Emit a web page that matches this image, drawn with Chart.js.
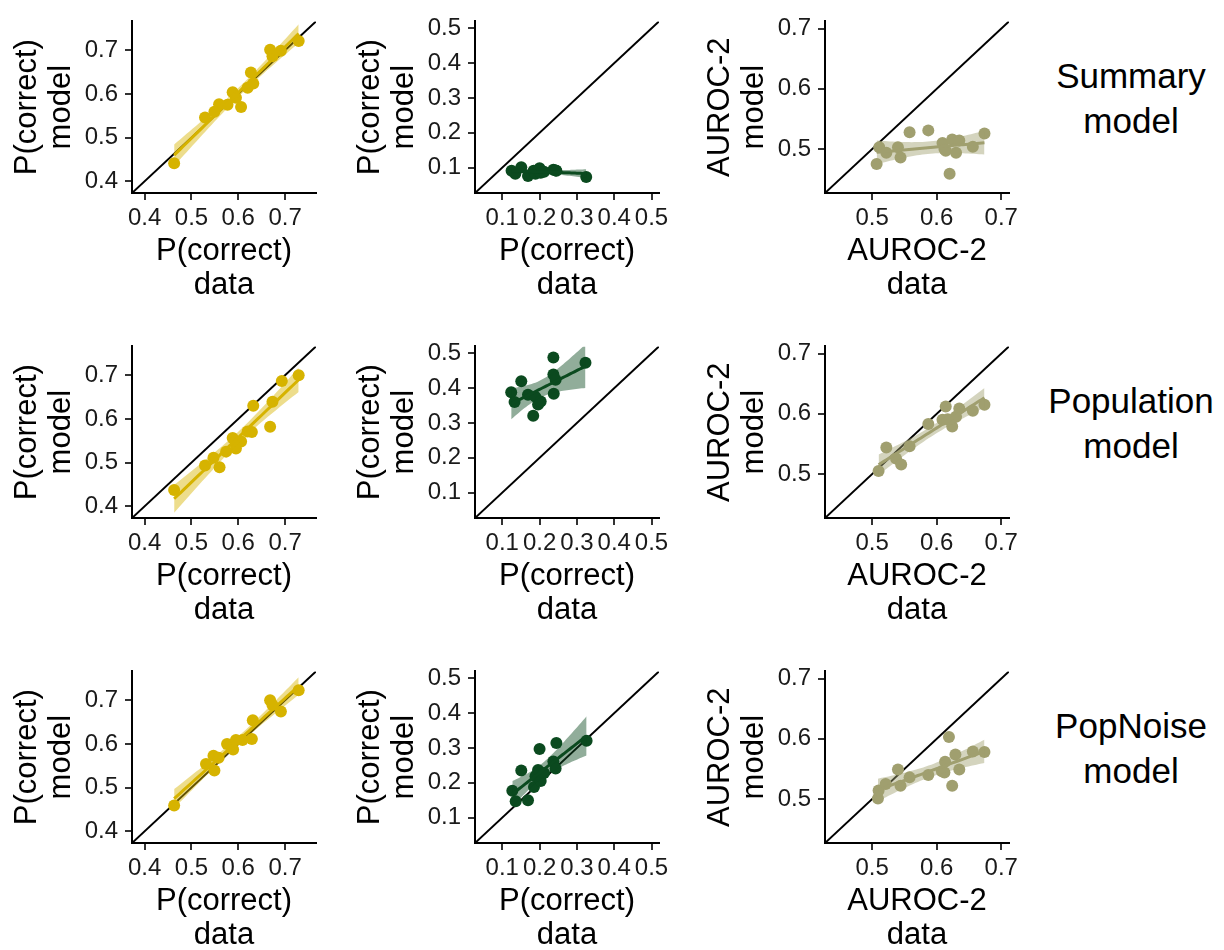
<!DOCTYPE html>
<html>
<head>
<meta charset="utf-8">
<script src="https://cdn.jsdelivr.net/npm/chart.js@4.4.1/dist/chart.umd.min.js"></script>
<style>
  body { margin: 0; background: #fff; width: 1224px; height: 950px; position: relative; overflow: hidden; }
  canvas { position: absolute; }
  .rowlab { position: absolute; left: 1031px; width: 200px; text-align: center; font-family: 'Liberation Sans', Arial, sans-serif; font-size: 35px; line-height: 45px; color: #000; }
</style>
</head>
<body>
<canvas id="c11" width="330" height="320" style="left:0px;top:0px"></canvas>
<canvas id="c12" width="330" height="320" style="left:343px;top:0px"></canvas>
<canvas id="c13" width="330" height="320" style="left:693px;top:0px"></canvas>
<canvas id="c21" width="330" height="320" style="left:0px;top:325px"></canvas>
<canvas id="c22" width="330" height="320" style="left:343px;top:325px"></canvas>
<canvas id="c23" width="330" height="320" style="left:693px;top:325px"></canvas>
<canvas id="c31" width="330" height="320" style="left:0px;top:650px"></canvas>
<canvas id="c32" width="330" height="320" style="left:343px;top:650px"></canvas>
<canvas id="c33" width="330" height="320" style="left:693px;top:650px"></canvas>
<div class="rowlab" style="top:53px">Summary<br>model</div>
<div class="rowlab" style="top:378px">Population<br>model</div>
<div class="rowlab" style="top:703px">PopNoise<br>model</div>

<script>
// axis ticks and limits per column
const accTicks = [0.4, 0.5, 0.6, 0.7];
const lowTicks = [0.1, 0.2, 0.3, 0.4, 0.5];
const aurocTicks = [0.5, 0.6, 0.7];
const accRange = [0.373, 0.766];
const lowRange = [0.027, 0.52];
const aurocRange = [0.427, 0.712];

// Summary model
const sumAccData  = [0.463, 0.529, 0.549, 0.559, 0.577, 0.588, 0.595, 0.606, 0.620, 0.632, 0.627, 0.668, 0.673, 0.691, 0.729];
const sumAccModel = [0.441, 0.546, 0.559, 0.576, 0.575, 0.604, 0.591, 0.570, 0.614, 0.624, 0.649, 0.701, 0.686, 0.699, 0.721];
const sumLowData  = [0.125, 0.135, 0.151, 0.169, 0.184, 0.189, 0.196, 0.200, 0.203, 0.212, 0.237, 0.243, 0.245, 0.325];
const sumLowModel = [0.091, 0.082, 0.101, 0.076, 0.091, 0.082, 0.090, 0.098, 0.085, 0.088, 0.094, 0.092, 0.091, 0.073];
const sumAurocData  = [0.507, 0.511, 0.522, 0.540, 0.544, 0.558, 0.587, 0.609, 0.612, 0.614, 0.620, 0.624, 0.630, 0.635, 0.656, 0.674];
const sumAurocModel = [0.475, 0.503, 0.494, 0.503, 0.486, 0.528, 0.531, 0.510, 0.500, 0.497, 0.459, 0.516, 0.494, 0.514, 0.504, 0.526];

// Population model
const popAccData  = [0.463, 0.529, 0.547, 0.560, 0.574, 0.588, 0.595, 0.606, 0.620, 0.629, 0.632, 0.668, 0.673, 0.693, 0.729];
const popAccModel = [0.437, 0.493, 0.511, 0.489, 0.525, 0.556, 0.532, 0.548, 0.571, 0.570, 0.630, 0.582, 0.639, 0.687, 0.700];
const popLowData  = [0.124, 0.133, 0.151, 0.169, 0.183, 0.189, 0.196, 0.203, 0.237, 0.237, 0.238, 0.243, 0.323];
const popLowModel = [0.388, 0.360, 0.420, 0.381, 0.321, 0.375, 0.353, 0.362, 0.488, 0.439, 0.384, 0.424, 0.473];
const popAurocData  = [0.510, 0.522, 0.537, 0.545, 0.558, 0.587, 0.609, 0.614, 0.617, 0.624, 0.630, 0.635, 0.656, 0.674];
const popAurocModel = [0.505, 0.544, 0.526, 0.516, 0.546, 0.583, 0.590, 0.612, 0.591, 0.579, 0.595, 0.609, 0.605, 0.615];

// PopNoise model
const noiseAccData  = [0.463, 0.531, 0.549, 0.547, 0.558, 0.576, 0.589, 0.595, 0.609, 0.629, 0.631, 0.668, 0.673, 0.691, 0.729];
const noiseAccModel = [0.459, 0.554, 0.539, 0.573, 0.568, 0.600, 0.587, 0.609, 0.609, 0.611, 0.654, 0.700, 0.689, 0.674, 0.723];
const noiseLowData  = [0.127, 0.136, 0.151, 0.169, 0.185, 0.189, 0.196, 0.200, 0.203, 0.212, 0.237, 0.243, 0.245, 0.326];
const noiseLowModel = [0.177, 0.147, 0.235, 0.150, 0.188, 0.219, 0.237, 0.297, 0.205, 0.228, 0.261, 0.241, 0.314, 0.321];
const noiseAurocData  = [0.509, 0.510, 0.521, 0.540, 0.544, 0.558, 0.587, 0.608, 0.612, 0.613, 0.619, 0.624, 0.629, 0.635, 0.656, 0.674];
const noiseAurocModel = [0.501, 0.514, 0.525, 0.549, 0.522, 0.536, 0.540, 0.546, 0.544, 0.562, 0.603, 0.522, 0.574, 0.549, 0.579, 0.578];

const accColor = [214, 179, 0];
const lowColor = [11, 74, 31];
const aurocColor = [160, 159, 111];

const FONT = "'Liberation Sans', Arial, sans-serif";
// two-sided 95% t quantiles by degrees of freedom
const tQuant = {8: 2.306, 9: 2.262, 10: 2.228, 11: 2.201, 12: 2.179, 13: 2.160, 14: 2.145, 15: 2.131};

function rgba(c, a) {
    return 'rgba(' + c[0] + ',' + c[1] + ',' + c[2] + ',' + a + ')';
}

// linear fit with 95% confidence band, like geom_smooth(method = "lm")
function lmFit(xs, ys) {
    const n = xs.length;
    let mx = 0, my = 0;
    for (let i = 0; i < n; i++) { mx += xs[i]; my += ys[i]; }
    mx /= n; my /= n;
    let sxx = 0, sxy = 0;
    for (let i = 0; i < n; i++) {
        sxx += (xs[i] - mx) * (xs[i] - mx);
        sxy += (xs[i] - mx) * (ys[i] - my);
    }
    const b = sxy / sxx;
    const a = my - b * mx;
    let rss = 0;
    for (let i = 0; i < n; i++) {
        const r = ys[i] - (a + b * xs[i]);
        rss += r * r;
    }
    const s = Math.sqrt(rss / (n - 2));
    const t = tQuant[n - 2] || 2.2;
    const lo = Math.min(...xs), hi = Math.max(...xs);
    const fit = [], lower = [], upper = [];
    const steps = 40;
    for (let k = 0; k <= steps; k++) {
        const x = lo + (hi - lo) * k / steps;
        const yh = a + b * x;
        const se = s * Math.sqrt(1 / n + (x - mx) * (x - mx) / sxx);
        fit.push({x: x, y: yh});
        lower.push({x: x, y: yh - t * se});
        upper.push({x: x, y: yh + t * se});
    }
    return {fit: fit, lower: lower, upper: upper};
}

function makeChart(id, xs, ys, range, ticks, color, xTitle, yTitle) {
    const pts = xs.map((x, i) => ({x: x, y: ys[i]}));
    const lm = lmFit(xs, ys);
    const axisCommon = {
        type: 'linear',
        min: range[0],
        max: range[1],
        afterBuildTicks: function (scale) {
            scale.ticks = ticks.map(v => ({value: v}));
        },
        grid: {
            display: true,
            drawOnChartArea: false,
            drawTicks: true,
            tickLength: 7,
            color: '#333333',
            lineWidth: 2
        },
        border: { display: true, color: '#000000', width: 2 }
    };
    const ctx = document.getElementById(id).getContext('2d');
    return new Chart(ctx, {
        type: 'scatter',
        data: {
            datasets: [
                {
                    type: 'line', data: lm.fit, borderColor: rgba(color, 1), borderWidth: 3,
                    pointRadius: 0, fill: false, order: 0
                },
                {
                    type: 'line', data: lm.upper, borderWidth: 0, borderColor: 'rgba(0,0,0,0)',
                    pointRadius: 0, fill: '+1', backgroundColor: rgba(color, 0.45), order: 1
                },
                {
                    type: 'line', data: lm.lower, borderWidth: 0, borderColor: 'rgba(0,0,0,0)',
                    pointRadius: 0, fill: false, order: 2
                },
                {
                    data: pts, pointRadius: 6, pointBorderWidth: 0,
                    backgroundColor: rgba(color, 1), borderColor: rgba(color, 1), order: 3
                },
                {
                    type: 'line', data: [{x: range[0], y: range[0]}, {x: range[1], y: range[1]}],
                    borderColor: '#000000', borderWidth: 2, pointRadius: 0, fill: false, order: 4
                }
            ]
        },
        options: {
            responsive: false,
            animation: false,
            devicePixelRatio: 1,
            events: [],
            layout: { padding: { left: 0, top: 9, right: 14, bottom: 0 } },
            plugins: { legend: { display: false }, tooltip: { enabled: false } },
            scales: {
                x: Object.assign({}, axisCommon, {
                    position: 'bottom',
                    afterFit: function (scale) { scale.height = 127; },
                    ticks: {
                        autoSkip: false, maxRotation: 0, minRotation: 0, padding: 4,
                        color: '#1a1a1a', font: { family: FONT, size: 24 },
                        callback: v => v.toFixed(1)
                    },
                    title: {
                        display: true, text: xTitle, color: '#000000',
                        font: { family: FONT, size: 31, lineHeight: 1.08 },
                        padding: { top: 0, bottom: 18 }
                    }
                }),
                y: Object.assign({}, axisCommon, {
                    position: 'left',
                    afterFit: function (scale) { scale.width = 132; },
                    ticks: {
                        autoSkip: false, padding: 7,
                        color: '#1a1a1a', font: { family: FONT, size: 24 },
                        callback: v => v.toFixed(1)
                    },
                    title: {
                        display: true, text: yTitle, color: '#000000',
                        font: { family: FONT, size: 31, lineHeight: 1.08 },
                        padding: { top: 11, bottom: 0 }
                    }
                })
            }
        }
    });
}

const pcX = ['P(correct)', 'data'], pcY = ['P(correct)', 'model'];
const auX = ['AUROC-2', 'data'], auY = ['AUROC-2', 'model'];

makeChart('c11', sumAccData, sumAccModel, accRange, accTicks, accColor, pcX, pcY);
makeChart('c12', sumLowData, sumLowModel, lowRange, lowTicks, lowColor, pcX, pcY);
makeChart('c13', sumAurocData, sumAurocModel, aurocRange, aurocTicks, aurocColor, auX, auY);
makeChart('c21', popAccData, popAccModel, accRange, accTicks, accColor, pcX, pcY);
makeChart('c22', popLowData, popLowModel, lowRange, lowTicks, lowColor, pcX, pcY);
makeChart('c23', popAurocData, popAurocModel, aurocRange, aurocTicks, aurocColor, auX, auY);
makeChart('c31', noiseAccData, noiseAccModel, accRange, accTicks, accColor, pcX, pcY);
makeChart('c32', noiseLowData, noiseLowModel, lowRange, lowTicks, lowColor, pcX, pcY);
makeChart('c33', noiseAurocData, noiseAurocModel, aurocRange, aurocTicks, aurocColor, auX, auY);
</script>
</body>
</html>
